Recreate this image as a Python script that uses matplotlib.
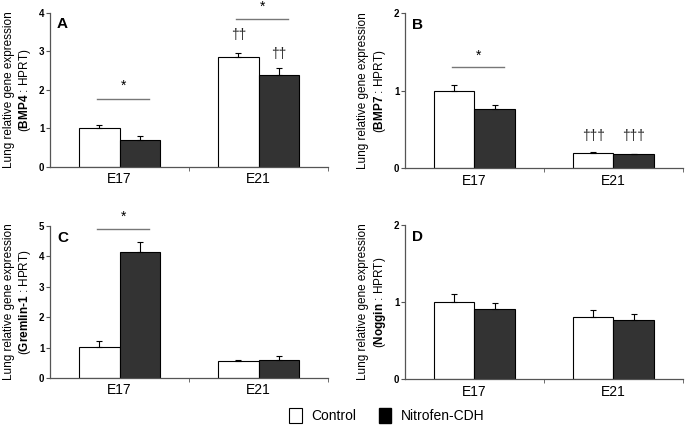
import numpy as np
import matplotlib.pyplot as plt
from matplotlib.patches import Patch

plt.rcParams['font.family'] = ['Liberation Sans', 'DejaVu Sans']
plt.rcParams['mathtext.fontset'] = 'custom'
plt.rcParams['mathtext.rm'] = 'Liberation Sans'
plt.rcParams['mathtext.bf'] = 'Liberation Sans:bold'

stages = ['E17', 'E21']

# panel A: BMP4
bmp4_ctrl = [1.0, 2.86]
bmp4_ctrl_err = [0.09, 0.10]
bmp4_cdh = [0.71, 2.39]
bmp4_cdh_err = [0.08, 0.17]

# panel B: BMP7
bmp7_ctrl = [1.0, 0.195]
bmp7_ctrl_err = [0.07, 0.015]
bmp7_cdh = [0.77, 0.185]
bmp7_cdh_err = [0.05, 0.0]

# panel C: Gremlin-1
grem_ctrl = [1.02, 0.55]
grem_ctrl_err = [0.18, 0.03]
grem_cdh = [4.13, 0.58]
grem_cdh_err = [0.35, 0.15]

# panel D: Noggin
nog_ctrl = [0.995, 0.805]
nog_ctrl_err = [0.11, 0.095]
nog_cdh = [0.91, 0.766]
nog_cdh_err = [0.075, 0.078]

panels = [
    ('A', 'BMP4', bmp4_ctrl, bmp4_ctrl_err, bmp4_cdh, bmp4_cdh_err, 4, [0, 1, 2, 3, 4]),
    ('B', 'BMP7', bmp7_ctrl, bmp7_ctrl_err, bmp7_cdh, bmp7_cdh_err, 2, [0, 1, 2]),
    ('C', 'Gremlin\u20101', grem_ctrl, grem_ctrl_err, grem_cdh, grem_cdh_err, 5, [0, 1, 2, 3, 4, 5]),
    ('D', 'Noggin', nog_ctrl, nog_ctrl_err, nog_cdh, nog_cdh_err, 2, [0, 1, 2]),
]

# significance bars: (stage index, line height, star height)
sig_lines = {'A': [(0, 1.76, 2.1), (1, 3.83, 4.15)],
             'B': [(0, 1.30, 1.45)],
             'C': [(0, 4.89, 5.3)]}
# dagger marks: (stage index, side, y, text)
daggers = {'A': [(1, -1, 3.25, '††'), (1, 1, 2.75, '††')],
           'B': [(1, -1, 0.32, '†††'), (1, 1, 0.32, '†††')]}

positions = {'A': [0.073, 0.610, 0.406, 0.360],
             'B': [0.591, 0.607, 0.406, 0.362],
             'C': [0.073, 0.117, 0.406, 0.355],
             'D': [0.591, 0.1145, 0.406, 0.360]}

fig = plt.figure(figsize=(6.85, 4.28), dpi=100)
x = np.arange(len(stages))
w = 0.29
dark = '#333333'
axcol = '#555555'

for label, gene, ctrl, ctrl_err, cdh, cdh_err, ymax, yticks in panels:
    ax = fig.add_axes(positions[label])
    ax.bar(x - w / 2, ctrl, w, color='white', edgecolor='black', linewidth=0.8,
           yerr=[np.zeros(2), ctrl_err], error_kw=dict(ecolor='black', elinewidth=0.8, capsize=2, capthick=0.8))
    ax.bar(x + w / 2, cdh, w, color=dark, edgecolor='black', linewidth=0.8,
           yerr=[np.zeros(2), cdh_err], error_kw=dict(ecolor='black', elinewidth=0.8, capsize=2, capthick=0.8))
    ax.set_xlim(-0.5, 1.5)
    ax.set_ylim(0, ymax)
    ax.set_yticks(yticks)
    ax.set_yticklabels([str(t) for t in yticks], fontsize=7, fontweight='bold')
    ax.set_xticks(x)
    ax.set_xticklabels(stages, fontsize=10)
    ax.tick_params(axis='x', length=0, pad=4)
    ax.set_xticks([0.5, 1.5], minor=True)
    ax.tick_params(axis='x', which='minor', length=3, color=axcol)
    ax.tick_params(axis='y', length=3, color=axcol, pad=1)
    for s in ['top', 'right']:
        ax.spines[s].set_visible(False)
    for s in ['left', 'bottom']:
        ax.spines[s].set_color(axcol)
        ax.spines[s].set_linewidth(0.9)
    ax.set_ylabel('Lung relative gene expression\n(' + r'$\mathbf{' + gene + '}$' + ' : HPRT)',
                  fontsize=8.5, labelpad=4, linespacing=1.25)
    ax.text(0.025, 0.97, label, transform=ax.transAxes, fontsize=11, fontweight='bold', va='top', ha='left')

    for i, yl, ys in sig_lines.get(label, []):
        ax.plot([i - 0.16, i + 0.215], [yl, yl], color='#777777', lw=1, clip_on=False)
        ax.text(i + 0.03, ys, '*', ha='center', va='center', fontsize=10, clip_on=False)
    for i, side, yd, txt in daggers.get(label, []):
        ax.text(i + side * w / 2, yd, txt, ha='center', va='bottom', fontsize=10, color='#222222')

handles = [Patch(facecolor='white', edgecolor='black', linewidth=0.8, label='Control'),
           Patch(facecolor='black', edgecolor='black', label='Nitrofen-CDH')]
fig.legend(handles=handles, loc='center', bbox_to_anchor=(0.565, 0.03), ncol=2, frameon=False,
           fontsize=10, handlelength=0.9, handleheight=1.3, columnspacing=1.6, handletextpad=0.7)

fig.savefig('out.png', dpi=100)
